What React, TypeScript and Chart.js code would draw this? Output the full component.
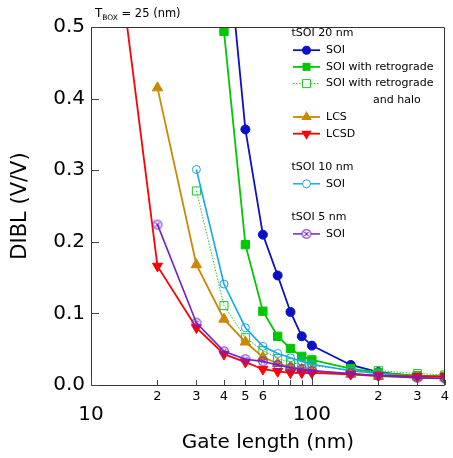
import React, { useEffect, useRef } from 'react';
import { Chart, registerables } from 'chart.js';
Chart.register(...registerables);

const FONT = 'DejaVu Sans';

// x axis ticks
const xTicks = [10, 20, 30, 40, 50, 60, 70, 80, 90, 100, 200, 300, 400];
const xTickLabels = ['10', '2', '3', '4', '5', '6', '', '', '', '100', '2', '3', '4'];
const xMajor = [10, 100];
const yTicks = [0, 0.1, 0.2, 0.3, 0.4, 0.5];

// tSOI 20 nm, SOI
const soi20L = [40, 50, 60, 70, 80, 90, 100, 150, 200, 300, 400];
const soi20V = [0.667, 0.357, 0.210, 0.153, 0.102, 0.068, 0.055, 0.028, 0.018, 0.012, 0.010];
// tSOI 20 nm, SOI with retrograde
const retroL = [40, 50, 60, 70, 80, 90, 100, 150, 200, 300, 400];
const retroV = [0.494, 0.196, 0.103, 0.068, 0.051, 0.040, 0.035, 0.023, 0.017, 0.013, 0.012];
// tSOI 20 nm, SOI with retrograde and halo
const haloL = [30, 40, 50, 60, 70, 80, 90, 100, 150, 200, 300, 400];
const haloV = [0.271, 0.111, 0.066, 0.048, 0.037, 0.031, 0.029, 0.027, 0.021, 0.020, 0.016, 0.014];
// LCS
const lcsL = [20, 30, 40, 50, 60, 70, 80, 90, 100, 150, 200, 300, 400];
const lcsV = [0.415, 0.168, 0.092, 0.060, 0.039, 0.030, 0.025, 0.022, 0.020, 0.015, 0.012, 0.011, 0.010];
// LCSD
const lcsdL = [10, 20, 30, 40, 50, 60, 70, 80, 90, 100, 150, 200, 300, 400];
const lcsdV = [0.9, 0.166, 0.080, 0.043, 0.032, 0.022, 0.019, 0.017, 0.017, 0.017, 0.015, 0.013, 0.012, 0.012];
// tSOI 10 nm, SOI
const soi10L = [30, 40, 50, 60, 70, 80, 90, 100, 150, 200, 300, 400];
const soi10V = [0.301, 0.141, 0.080, 0.054, 0.044, 0.038, 0.033, 0.029, 0.020, 0.016, 0.011, 0.010];
// tSOI 5 nm, SOI
const soi5L = [20, 30, 40, 50, 60, 70, 80, 90, 100, 150, 200, 300, 400];
const soi5V = [0.224, 0.087, 0.047, 0.036, 0.033, 0.028, 0.024, 0.022, 0.020, 0.016, 0.013, 0.010, 0.009];

const groupHeaders = ['tSOI 20 nm', 'tSOI 10 nm', 'tSOI 5 nm'];
const seriesNames = ['SOI', 'SOI with retrograde', 'SOI with retrograde', 'LCS', 'LCSD', 'SOI', 'SOI'];
const haloSecondLine = 'and halo';

const C_BLUE = '#0a10c8';
const C_GREEN = '#00c800';
const C_HALO = '#20c820';
const C_LCS = '#cc8800';
const C_LCSD = '#ff0000';
const C_LBLUE = '#14a8f0';
const C_PURPLE = '#7020d0';

function pts(L: number[], V: number[]) {
  return L.map((x, i) => ({ x, y: V[i] }));
}

function makeCrossCircle(color: string, r: number) {
  const s = Math.ceil(r * 2 + 3);
  const c = document.createElement('canvas');
  c.width = s;
  c.height = s;
  const g = c.getContext('2d')!;
  const m = s / 2;
  g.strokeStyle = color;
  g.lineWidth = 1.1;
  g.beginPath();
  g.arc(m, m, r, 0, Math.PI * 2);
  g.stroke();
  const d = r * 0.5;
  g.beginPath();
  g.moveTo(m - d, m - d);
  g.lineTo(m + d, m + d);
  g.moveTo(m + d, m - d);
  g.lineTo(m - d, m + d);
  g.stroke();
  return c;
}

function drawMarker(ctx: CanvasRenderingContext2D, kind: string, x: number, y: number, color: string, img?: HTMLCanvasElement) {
  ctx.save();
  ctx.fillStyle = color;
  ctx.strokeStyle = color;
  ctx.lineWidth = 1;
  ctx.beginPath();
  if (kind === 'circle') {
    ctx.arc(x, y, 4.5, 0, Math.PI * 2);
    ctx.fill();
  } else if (kind === 'ocircle') {
    ctx.arc(x, y, 4, 0, Math.PI * 2);
    ctx.fillStyle = '#fff';
    ctx.fill();
    ctx.stroke();
  } else if (kind === 'rect') {
    ctx.rect(x - 4, y - 4, 8, 8);
    ctx.fill();
  } else if (kind === 'orect') {
    ctx.rect(x - 4, y - 4, 8, 8);
    ctx.fillStyle = '#fff';
    ctx.fill();
    ctx.stroke();
  } else if (kind === 'tri' || kind === 'dtri') {
    const r = 6;
    const s = kind === 'tri' ? 1 : -1;
    ctx.moveTo(x, y - s * r);
    ctx.lineTo(x + r * 0.866, y + s * r * 0.5);
    ctx.lineTo(x - r * 0.866, y + s * r * 0.5);
    ctx.closePath();
    ctx.fill();
  } else if (kind === 'img' && img) {
    ctx.fillStyle = '#fff';
    ctx.arc(x, y, 4.5, 0, Math.PI * 2);
    ctx.fill();
    ctx.drawImage(img, x - img.width / 2, y - img.height / 2);
  }
  ctx.restore();
}

export default function App() {
  const ref = useRef<HTMLCanvasElement | null>(null);

  useEffect(() => {
    document.body.style.margin = '0';
    const canvas = ref.current!;
    const crossImg = makeCrossCircle(C_PURPLE, 4.3);

    const legendRows = [
      { row: 0, header: groupHeaders[0] },
      { row: 1, name: seriesNames[0], color: C_BLUE, kind: 'circle', dash: [] as number[], lw: 1.8 },
      { row: 2, name: seriesNames[1], color: C_GREEN, kind: 'rect', dash: [], lw: 1.8 },
      { row: 3, name: seriesNames[2], color: C_HALO, kind: 'orect', dash: [1.5, 1.5], lw: 1 },
      { row: 4, extra: haloSecondLine },
      { row: 5, name: seriesNames[3], color: C_LCS, kind: 'tri', dash: [], lw: 1.8 },
      { row: 6, name: seriesNames[4], color: C_LCSD, kind: 'dtri', dash: [], lw: 1.8 },
      { row: 8, header: groupHeaders[1] },
      { row: 9, name: seriesNames[5], color: C_LBLUE, kind: 'ocircle', dash: [], lw: 1.5 },
      { row: 11, header: groupHeaders[2] },
      { row: 12, name: seriesNames[6], color: C_PURPLE, kind: 'img', dash: [], lw: 1.5 },
    ];

    const decor = {
      id: 'decor',
      afterDatasetsDraw(chart: any) {
        const ctx: CanvasRenderingContext2D = chart.ctx;
        const { left, right, top, bottom } = chart.chartArea;
        const xs = chart.scales.x;
        const ys = chart.scales.y;
        ctx.save();
        // frame
        ctx.strokeStyle = '#333';
        ctx.lineWidth = 1;
        ctx.beginPath();
        ctx.rect(Math.round(left) + 0.5, Math.round(top) + 0.5, Math.round(right - left) - 1, Math.round(bottom - top));
        ctx.stroke();
        // x ticks (inward)
        ctx.strokeStyle = '#444';
        ctx.beginPath();
        xTicks.forEach((v) => {
          const px = Math.round(xs.getPixelForValue(v)) + 0.5;
          const len = xMajor.includes(v) ? 8 : 5;
          ctx.moveTo(px, bottom);
          ctx.lineTo(px, bottom - len);
        });
        yTicks.forEach((v) => {
          const py = Math.round(ys.getPixelForValue(v)) + 0.5;
          ctx.moveTo(left, py);
          ctx.lineTo(left + 8, py);
        });
        ctx.stroke();

        // legend
        const y0 = 33.5;
        const dy = 16.7;
        ctx.font = `11px "${FONT}"`;
        ctx.textBaseline = 'middle';
        ctx.fillStyle = '#000';
        legendRows.forEach((it: any) => {
          const y = y0 + dy * it.row;
          if (it.header) {
            ctx.fillStyle = '#000';
            ctx.fillText(it.header, 291.5, y);
          } else if (it.extra) {
            ctx.fillStyle = '#000';
            ctx.fillText(it.extra, 373, y);
          } else {
            ctx.save();
            ctx.strokeStyle = it.color;
            ctx.lineWidth = it.lw;
            ctx.setLineDash(it.dash);
            ctx.beginPath();
            ctx.moveTo(293, y);
            ctx.lineTo(320, y);
            ctx.stroke();
            ctx.restore();
            drawMarker(ctx, it.kind, 306.5, y, it.color, crossImg);
            ctx.fillStyle = '#000';
            ctx.fillText(it.name, 326, y);
          }
        });

        // T_BOX annotation
        ctx.textBaseline = 'alphabetic';
        ctx.fillStyle = '#000';
        ctx.font = `12px "${FONT}"`;
        ctx.fillText('T', 95, 16.5);
        let x = 95 + ctx.measureText('T').width;
        ctx.font = `7.5px "${FONT}"`;
        ctx.fillText('BOX', x, 19.5);
        x += ctx.measureText('BOX').width;
        ctx.font = `11.5px "${FONT}"`;
        ctx.fillText(' = 25 (nm)', x, 16.5);
        ctx.restore();
      },
    };

    const lineDs = (label: string, data: any, color: string, style: any, extra: any = {}) => ({
      label,
      data,
      borderColor: color,
      backgroundColor: color,
      pointBorderColor: color,
      pointBackgroundColor: color,
      borderWidth: 1.8,
      pointStyle: style,
      pointRadius: 4.5,
      pointBorderWidth: 1,
      tension: 0,
      ...extra,
    });

    const chart = new Chart(canvas, {
      type: 'line',
      data: {
        datasets: [
          lineDs('tSOI 5 nm SOI', pts(soi5L, soi5V), C_PURPLE, crossImg, { borderWidth: 1.6 }),
          lineDs('LCSD', pts(lcsdL, lcsdV), C_LCSD, 'triangle', { pointRadius: 5.8, pointRotation: 180 }),
          lineDs('LCS', pts(lcsL, lcsV), C_LCS, 'triangle', { pointRadius: 6 }),
          lineDs('tSOI 10 nm SOI', pts(soi10L, soi10V), C_LBLUE, 'circle', {
            pointRadius: 4,
            pointBackgroundColor: 'rgba(255,255,255,0)',
            borderWidth: 1.6,
          }),
          lineDs('SOI with retrograde and halo', pts(haloL, haloV), C_HALO, 'rect', {
            pointRadius: 5.7,
            pointBackgroundColor: 'rgba(255,255,255,0)',
            borderWidth: 1,
            borderDash: [1.5, 1.5],
          }),
          lineDs('SOI with retrograde', pts(retroL, retroV), C_GREEN, 'rect', { pointRadius: 5.9 }),
          lineDs('tSOI 20 nm SOI', pts(soi20L, soi20V), C_BLUE, 'circle', { pointRadius: 4.5 }),
        ],
      },
      options: {
        animation: false,
        responsive: false,
        maintainAspectRatio: false,
        layout: { padding: { left: 0, top: 27, right: 4, bottom: 0 } },
        plugins: { legend: { display: false }, tooltip: { enabled: false }, title: { display: false } },
        scales: {
          x: {
            type: 'logarithmic',
            min: 10,
            max: 400,
            afterBuildTicks: (s: any) => {
              s.ticks = xTicks.map((v) => ({ value: v }));
            },
            afterFit: (s: any) => {
              s.height = 73;
            },
            grid: { display: false, drawTicks: false },
            border: { display: false },
            ticks: {
              autoSkip: false,
              maxRotation: 0,
              minRotation: 0,
              padding: 4,
              color: '#000',
              font: (c: any) =>
                c.tick && xMajor.includes(c.tick.value)
                  ? { family: FONT, size: 20, lineHeight: 2.6 }
                  : { family: FONT, size: 13, lineHeight: 1.2 },
              callback: (_v: any, i: number) => xTickLabels[i],
            },
            title: {
              display: true,
              text: 'Gate length (nm)',
              color: '#000',
              font: { family: FONT, size: 20 },
              padding: { top: 0, bottom: 3 },
            },
          },
          y: {
            min: 0,
            max: 0.5,
            afterBuildTicks: (s: any) => {
              s.ticks = yTicks.map((v) => ({ value: v }));
            },
            afterFit: (s: any) => {
              s.width = 91;
            },
            grid: { display: false, drawTicks: false },
            border: { display: false },
            ticks: {
              padding: 6,
              color: '#000',
              font: { family: FONT, size: 20 },
              callback: (v: any) => Number(v).toFixed(1),
            },
            title: {
              display: true,
              text: 'DIBL (V/V)',
              color: '#000',
              font: { family: FONT, size: 21 },
              padding: { top: 8, bottom: 0 },
            },
          },
        },
      },
      plugins: [decor],
    } as any);

    return () => chart.destroy();
  }, []);

  return (
    <div style={{ width: 453, height: 458 }}>
      <canvas ref={ref} width={453} height={458} style={{ display: 'block' }} />
    </div>
  );
}
